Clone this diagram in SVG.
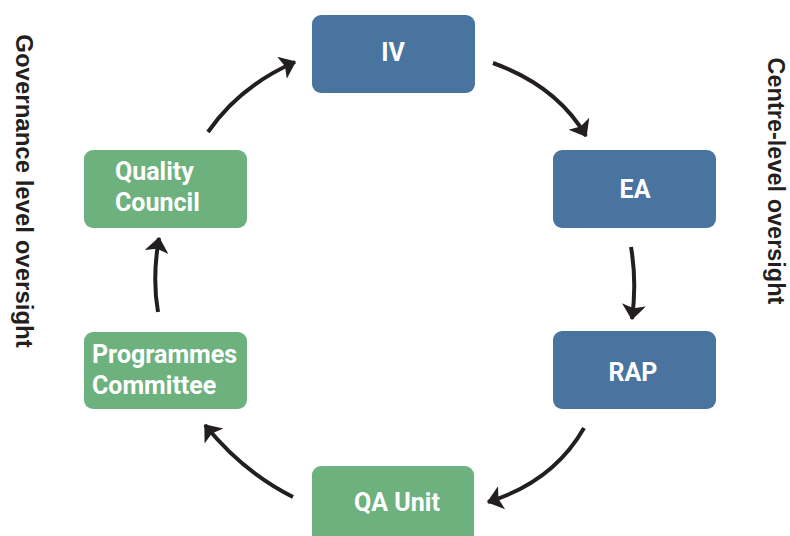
<svg xmlns="http://www.w3.org/2000/svg" width="790" height="536" viewBox="0 0 790 536">
<style>
.blue{fill:#4a74a0}
.green{fill:#6db17f}
.lbl{font-family:Roboto,"Liberation Sans",sans-serif;font-weight:bold;font-size:25px;fill:#ffffff}
.side{font-family:"Liberation Sans",Arial,sans-serif;font-weight:bold;fill:#231f20}
.conn{fill:none;stroke:#231f20;stroke-width:4;stroke-linecap:butt}
</style>
<defs>
<marker id="ah" markerUnits="userSpaceOnUse" markerWidth="24" markerHeight="24" viewBox="0 0 14 22" refX="13" refY="11" orient="auto">
<path d="M0,0 L14,11 L0,22 L3,11 z" fill="#231f20"/>
</marker>
</defs>
<rect width="790" height="536" fill="#ffffff"/>
<text class="side" font-size="24" transform="translate(16,191) rotate(90)" text-anchor="middle">Governance level oversight</text>
<text class="side" font-size="23.5" transform="translate(768,181) rotate(90)" text-anchor="middle">Centre-level oversight</text>
<g id="connectors">
<path class="conn" d="M208,132 Q240,86 295,62" marker-end="url(#ah)"/>
<path class="conn" d="M493,63 Q557,86 586,136" marker-end="url(#ah)"/>
<path class="conn" d="M631,247 Q637,282 632,319" marker-end="url(#ah)"/>
<path class="conn" d="M584,428 Q553,482 488,502" marker-end="url(#ah)"/>
<path class="conn" d="M293,497 Q243,472 205,425" marker-end="url(#ah)"/>
<path class="conn" d="M158,312 Q152,278 159,238" marker-end="url(#ah)"/>
</g>
<g id="iv"><rect class="blue" x="312" y="15" width="163" height="78" rx="9"/><text class="lbl" x="393" y="61" text-anchor="middle">IV</text></g>
<g id="ea"><rect class="blue" x="553" y="150" width="163" height="78" rx="9"/><text class="lbl" x="635" y="198" text-anchor="middle">EA</text></g>
<g id="rap"><rect class="blue" x="553" y="331" width="163" height="78" rx="9"/><text class="lbl" x="633" y="381" text-anchor="middle">RAP</text></g>
<g id="qa"><rect class="green" x="312" y="466" width="162" height="78" rx="9"/><text class="lbl" x="397" y="511" text-anchor="middle">QA Unit</text></g>
<g id="quality"><rect class="green" x="84" y="150" width="163" height="78" rx="9"/><text class="lbl" x="115" y="180">Quality</text><text class="lbl" x="115" y="211">Council</text></g>
<g id="programmes"><rect class="green" x="84" y="332" width="163" height="77" rx="9"/><text class="lbl" x="92" y="363">Programmes</text><text class="lbl" x="92" y="394">Committee</text></g>
</svg>
